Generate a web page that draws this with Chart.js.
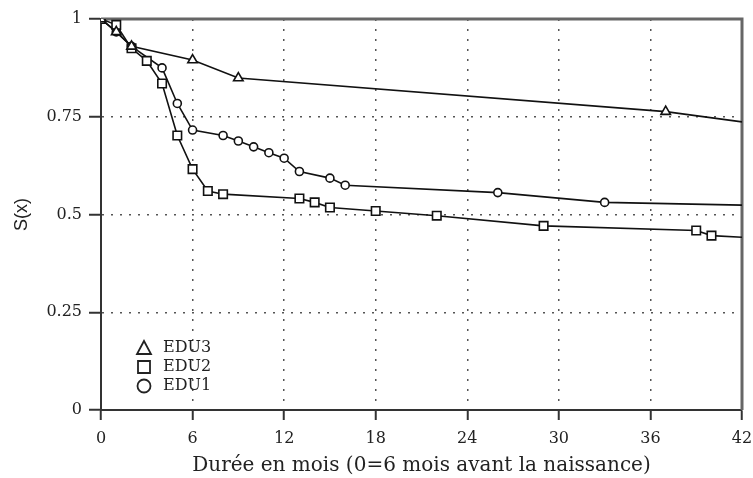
<!DOCTYPE html>
<html>
<head>
<meta charset="utf-8">
<script src="https://cdn.jsdelivr.net/npm/chart.js"></script>
<style>
  html, body { margin: 0; padding: 0; background: #fff; }
  #wrap { width: 753px; height: 478px; }
</style>
</head>
<body>
<div id="wrap"><canvas id="survie"></canvas></div>
<script>
// courbes de survie par niveau d'éducation
var edu3Mois = [0, 1, 2, 6, 9, 37, 42];
var edu3Surv = [1, 0.967, 0.93, 0.895, 0.849, 0.763, 0.737];

var edu2Mois = [0, 1, 2, 3, 4, 5, 6, 7, 8, 13, 14, 15, 18, 22, 29, 39, 40, 42];
var edu2Surv = [1, 0.985, 0.925, 0.893, 0.835, 0.702, 0.616, 0.56, 0.552, 0.541, 0.531, 0.518, 0.509, 0.497, 0.471, 0.459, 0.446, 0.442];

var edu1Mois = [0, 1, 2, 4, 5, 6, 8, 9, 10, 11, 12, 13, 15, 16, 26, 33, 42];
var edu1Surv = [1, 0.967, 0.93, 0.875, 0.784, 0.716, 0.702, 0.688, 0.673, 0.658, 0.644, 0.61, 0.593, 0.575, 0.556, 0.531, 0.524];

var xTicks = [0, 6, 12, 18, 24, 30, 36, 42];
var yTicks = [0, 0.25, 0.5, 0.75, 1];
var yTickLabels = ['0', '0.25', '0.5', '0.75', '1'];

var serif = 'DejaVu Serif';
var ink = '#222';

function points(xs, ys) {
  return xs.map(function (x, i) { return { x: x, y: ys[i] }; });
}

// pas de marqueur sur le dernier point (bord droit)
function radius(r) {
  return function (ctx) {
    return ctx.dataIndex === ctx.dataset.data.length - 1 ? 0 : r;
  };
}

function serie(label, xs, ys, style, r) {
  return {
    label: label,
    data: points(xs, ys),
    borderColor: '#111',
    borderWidth: 1.6,
    backgroundColor: '#fff',
    pointStyle: style,
    pointRadius: radius(r),
    pointBorderWidth: 1.6,
    pointBorderColor: '#111',
    pointBackgroundColor: '#fff',
    tension: 0
  };
}

// cadre haut/droite
var cadre = {
  id: 'cadre',
  beforeDatasetsDraw: function (chart) {
    var a = chart.chartArea, c = chart.ctx;
    c.save();
    c.strokeStyle = '#666';
    c.lineWidth = 3;
    c.beginPath();
    c.moveTo(a.left, a.top);
    c.lineTo(a.right, a.top);
    c.lineTo(a.right, a.bottom);
    c.stroke();
    c.restore();
  }
};

// légende dans le coin bas gauche
var legende = {
  id: 'legende',
  afterDraw: function (chart) {
    var a = chart.chartArea, c = chart.ctx;
    var ordre = [0, 1, 2];
    var mx = a.left + 43, tx = a.left + 62;
    var ys = [a.bottom - 62, a.bottom - 43, a.bottom - 24];
    c.save();
    c.strokeStyle = '#222';
    c.lineWidth = 1.8;
    c.fillStyle = '#fff';
    ordre.forEach(function (idx, k) {
      var ds = chart.data.datasets[idx];
      var y = ys[k];
      c.beginPath();
      if (ds.pointStyle === 'triangle') {
        c.moveTo(mx, y - 7);
        c.lineTo(mx + 7, y + 6);
        c.lineTo(mx - 7, y + 6);
        c.closePath();
      } else if (ds.pointStyle === 'rect') {
        c.rect(mx - 6, y - 6, 12, 12);
      } else {
        c.arc(mx, y, 6.5, 0, Math.PI * 2);
      }
      c.fill();
      c.stroke();
      c.fillStyle = ink;
      c.font = '16px "' + serif + '"';
      c.textBaseline = 'middle';
      c.textAlign = 'left';
      c.fillText(ds.label, tx, y);
      c.fillStyle = '#fff';
    });
    c.restore();
  }
};

function bord(valeurs) {
  return function (ctx) {
    var v = ctx.tick ? ctx.tick.value : null;
    return (v === valeurs[0] || v === valeurs[valeurs.length - 1]) ? 'rgba(0,0,0,0)' : '#555';
  };
}

new Chart(document.getElementById('survie'), {
  type: 'line',
  data: {
    datasets: [
      serie('EDU3', edu3Mois, edu3Surv, 'triangle', 5.5),
      serie('EDU2', edu2Mois, edu2Surv, 'rect', 6),
      serie('EDU1', edu1Mois, edu1Surv, 'circle', 4)
    ]
  },
  options: {
    responsive: true,
    maintainAspectRatio: false,
    animation: false,
    layout: { padding: { top: 19, right: 11, left: 0, bottom: 0 } },
    plugins: {
      legend: { display: false },
      tooltip: { enabled: false }
    },
    scales: {
      x: {
        type: 'linear',
        min: 0,
        max: 42,
        afterBuildTicks: function (s) { s.ticks = xTicks.map(function (v) { return { value: v }; }); },
        afterFit: function (s) { s.height = 68; s.paddingRight = 0; s.paddingLeft = 0; },
        ticks: {
          color: ink,
          font: { family: serif, size: 16 },
          padding: 9,
          maxRotation: 0,
          callback: function (v) { return String(v); }
        },
        grid: {
          color: bord(xTicks),
          lineWidth: 1.5,
          tickLength: 10,
          tickColor: '#333',
          tickWidth: 2,
          tickBorderDash: []
        },
        border: { display: true, color: '#333', width: 2, dash: [2, 8] },
        title: {
          display: true,
          text: 'Durée en mois (0=6 mois avant la naissance)',
          color: ink,
          font: { family: serif, size: 20 },
          padding: { top: 0, bottom: 0 }
        }
      },
      y: {
        min: 0,
        max: 1,
        afterBuildTicks: function (s) { s.ticks = yTicks.map(function (v) { return { value: v }; }); },
        afterFit: function (s) { s.width = 101; s.paddingTop = 0; s.paddingBottom = 0; },
        ticks: {
          color: ink,
          font: { family: serif, size: 16 },
          padding: 7,
          callback: function (v) { return yTickLabels[yTicks.indexOf(v)]; }
        },
        grid: {
          color: bord(yTicks),
          lineWidth: 1.5,
          tickLength: 12,
          tickColor: '#333',
          tickWidth: 2,
          tickBorderDash: []
        },
        border: { display: true, color: '#333', width: 2, dash: [2, 7] },
        title: {
          display: true,
          text: 'S(x)',
          color: ink,
          font: { family: 'Liberation Sans', size: 18 },
          padding: { top: 11, bottom: 0 }
        }
      }
    }
  },
  plugins: [cadre, legende]
});
</script>
</body>
</html>
